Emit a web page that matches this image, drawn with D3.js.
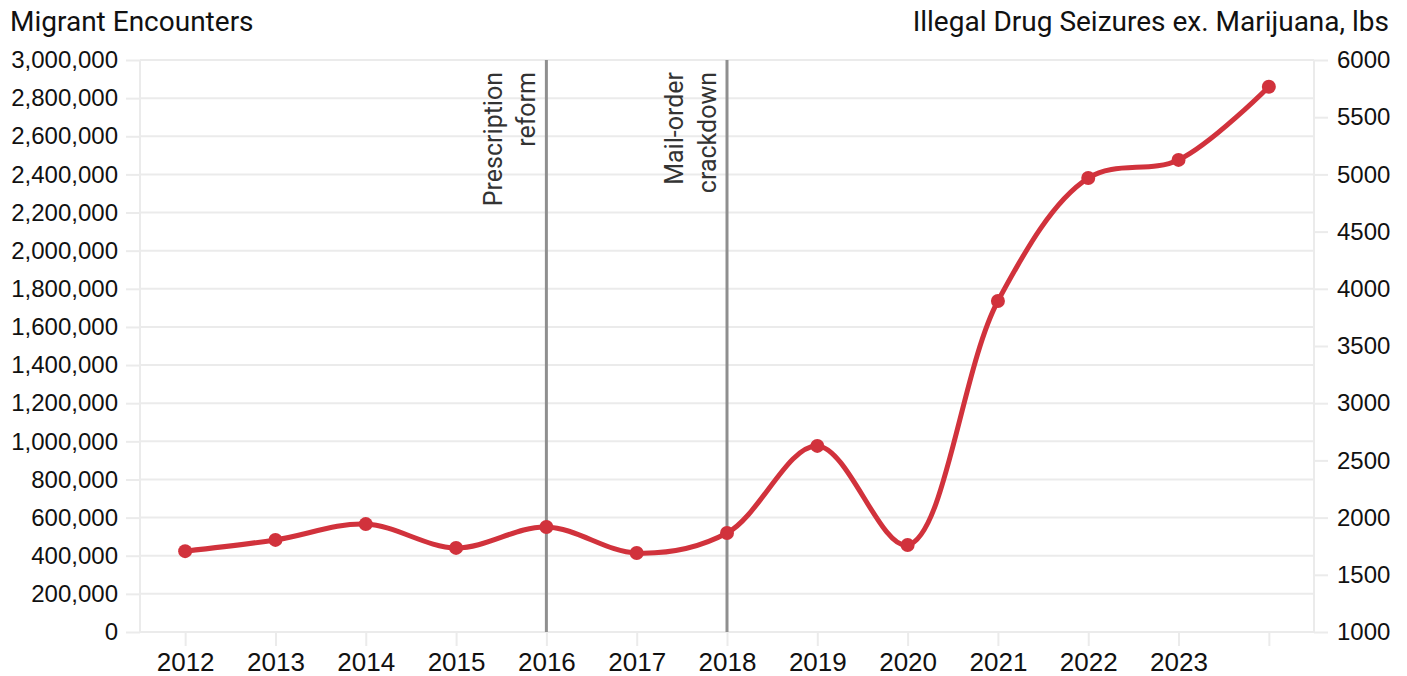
<!DOCTYPE html>
<html>
<head>
<meta charset="utf-8">
<script src="https://cdn.jsdelivr.net/npm/d3@7"></script>
<style>
  html, body { margin: 0; padding: 0; background: #fff; }
  svg { display: block; font-family: Roboto, "Noto Sans", sans-serif; }
</style>
</head>
<body>
<svg id="chart" width="1407" height="676"></svg>
<script>
// Yearly migrant encounters
const years = [2012, 2013, 2014, 2015, 2016, 2017, 2018, 2019, 2020, 2021, 2022, 2023, 2024];
const yearLabels = ["2012", "2013", "2014", "2015", "2016", "2017", "2018", "2019", "2020", "2021", "2022", "2023", ""];
const encounters = [424000, 483000, 566000, 441000, 551000, 414000, 519000, 976000, 456000, 1736000, 2381000, 2476000, 2860000];

// Policy events marked on the timeline
const eventYears = [2016, 2018];
const eventLabels = [["Prescription", "reform"], ["Mail-order", "crackdown"]];

// Axis ranges and titles
const leftDomain = [0, 3000000];
const rightDomain = [1000, 6000];
const leftTitle = "Migrant Encounters";
const rightTitle = "Illegal Drug Seizures ex. Marijuana, lbs";

const svg = d3.select("#chart");
const margin = { top: 60, right: 93, bottom: 44, left: 140 };
const W = 1407, H = 676;
const innerW = W - margin.left - margin.right;
const innerH = H - margin.top - margin.bottom;

const g = svg.append("g").attr("transform", `translate(${margin.left},${margin.top})`);

const x = d3.scalePoint().domain(years).range([0, innerW]).padding(0.5);
const yL = d3.scaleLinear().domain(leftDomain).range([innerH, 0]);
const yR = d3.scaleLinear().domain(rightDomain).range([innerH, 0]);

const gridColor = "#ebebeb";
const fontSize = 24;
const red = "#d1323c";

// Horizontal grid lines
g.append("g").selectAll("line")
  .data(yL.ticks(15))
  .join("line")
  .attr("x1", 0).attr("x2", innerW)
  .attr("y1", d => yL(d)).attr("y2", d => yL(d))
  .attr("stroke", gridColor).attr("stroke-width", 2);

// Left axis
const leftAxis = g.append("g")
  .call(d3.axisLeft(yL).ticks(15).tickFormat(d3.format(",")).tickSize(14).tickPadding(8));
leftAxis.select(".domain").attr("stroke", gridColor).attr("stroke-width", 2)
  .attr("d", `M0,${innerH}V0`);
leftAxis.selectAll(".tick line").attr("stroke", gridColor).attr("stroke-width", 2);
leftAxis.selectAll(".tick text").attr("fill", "#111").style("font-size", fontSize + "px");

// Right axis
const rightAxis = g.append("g").attr("transform", `translate(${innerW},0)`)
  .call(d3.axisRight(yR).ticks(10).tickFormat(d3.format("d")).tickSize(14).tickPadding(9));
rightAxis.select(".domain").attr("stroke", gridColor).attr("stroke-width", 2)
  .attr("d", `M0,${innerH}V0`);
rightAxis.selectAll(".tick line").attr("stroke", gridColor).attr("stroke-width", 2);
rightAxis.selectAll(".tick text").attr("fill", "#111").style("font-size", fontSize + "px");

// Bottom axis
const bottomAxis = g.append("g").attr("transform", `translate(0,${innerH})`)
  .call(d3.axisBottom(x).tickFormat((d, i) => yearLabels[i]).tickSize(14).tickPadding(7));
bottomAxis.select(".domain").remove();
bottomAxis.selectAll(".tick line").attr("stroke", gridColor).attr("stroke-width", 2);
bottomAxis.selectAll(".tick text").attr("fill", "#111").style("font-size", "26px");

// Event markers
const ev = g.append("g").selectAll("g")
  .data(eventYears)
  .join("g")
  .attr("transform", d => `translate(${x(d)},0)`);
ev.append("line")
  .attr("y1", 0).attr("y2", innerH)
  .attr("stroke", "#8f8f8f").attr("stroke-width", 3);
ev.append("text")
  .attr("transform", "translate(-44,12) rotate(-90)")
  .attr("text-anchor", "end")
  .attr("fill", "#333")
  .style("font-size", "25px")
  .selectAll("tspan")
  .data((d, i) => eventLabels[i])
  .join("tspan")
  .attr("x", 0)
  .attr("y", (d, i) => i * 33)
  .text(d => d);

// Encounters line
const pts = years.map((yr, i) => [yr, encounters[i]]);
g.append("path")
  .datum(pts)
  .attr("fill", "none")
  .attr("stroke", red)
  .attr("stroke-width", 5)
  .attr("stroke-linejoin", "round")
  .attr("d", d3.line().x(d => x(d[0])).y(d => yL(d[1])).curve(d3.curveCatmullRom.alpha(0.5)));

g.append("g").selectAll("circle")
  .data(pts)
  .join("circle")
  .attr("cx", d => x(d[0]))
  .attr("cy", d => yL(d[1]))
  .attr("r", 7)
  .attr("fill", red);

// Axis titles
svg.append("text")
  .attr("x", 10).attr("y", 31)
  .attr("fill", "#111")
  .style("font-size", "28px")
  .text(leftTitle);
svg.append("text")
  .attr("x", 1389).attr("y", 31)
  .attr("text-anchor", "end")
  .attr("fill", "#111")
  .style("font-size", "28px")
  .text(rightTitle);
</script>
</body>
</html>
